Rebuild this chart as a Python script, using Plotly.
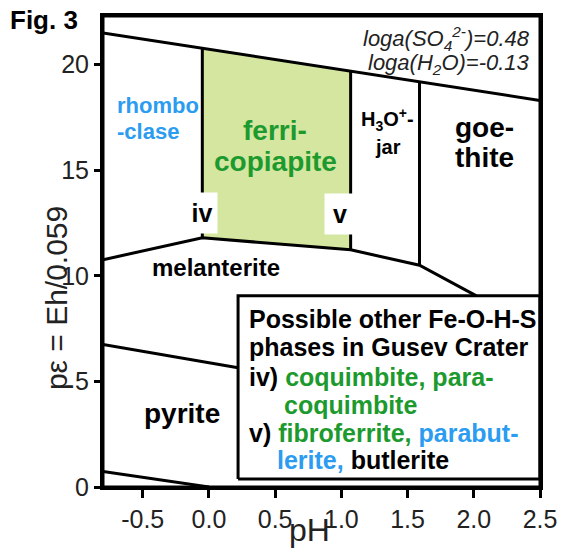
import plotly.graph_objects as go

# Phase boundaries (pH, pe)
water_x = [-0.8, 2.5]
water_y = [21.5, 18.3]

rhombo_ferri_x = [-0.05, -0.05]
rhombo_ferri_y = [20.77, 11.8]

ferri_jar_x = [1.07, 1.07]
ferri_jar_y = [19.69, 11.23]

jar_goethite_x = [1.59, 1.59]
jar_goethite_y = [19.18, 10.5]

melanterite_top_x = [-0.8, -0.05, 1.07, 1.59, 2.02]
melanterite_top_y = [10.76, 11.8, 11.23, 10.5, 9.05]

pyrite_top_x = [-0.8, 0.22]
pyrite_top_y = [6.75, 5.65]

pyrite_bottom_x = [-0.8, 0.0]
pyrite_bottom_y = [0.74, 0.0]

ferri_field_x = [-0.05, 1.07, 1.07, -0.05, -0.05]
ferri_field_y = [20.77, 19.69, 11.23, 11.8, 20.77]

legend_box_x = [0.22, 2.5, 2.5, 0.22, 0.22]
legend_box_y = [0.38, 0.38, 9.05, 9.05, 0.38]

x_ticks = [-0.5, 0.0, 0.5, 1.0, 1.5, 2.0, 2.5]
x_ticktext = ["-0.5", "0.0", "0.5", "1.0", "1.5", "2.0", "2.5"]
y_ticks = [0, 5, 10, 15, 20]

GREEN = "#1d9a2e"
BLUE = "#2b9cf0"
FONT = "Arial, Liberation Sans, sans-serif"

fig = go.Figure()

# ferricopiapite field
fig.add_trace(go.Scatter(x=ferri_field_x, y=ferri_field_y, mode="lines",
                         fill="toself", fillcolor="#d4e6a0",
                         line=dict(width=0), hoverinfo="skip"))

boundaries = [
    (water_x, water_y),
    (rhombo_ferri_x, rhombo_ferri_y),
    (ferri_jar_x, ferri_jar_y),
    (jar_goethite_x, jar_goethite_y),
    (melanterite_top_x, melanterite_top_y),
    (pyrite_top_x, pyrite_top_y),
    (pyrite_bottom_x, pyrite_bottom_y),
]
for bx, by in boundaries:
    fig.add_trace(go.Scatter(x=bx, y=by, mode="lines",
                             line=dict(color="black", width=3),
                             hoverinfo="skip"))

# white legend box
fig.add_trace(go.Scatter(x=legend_box_x, y=legend_box_y, mode="lines",
                         fill="toself", fillcolor="white",
                         line=dict(color="black", width=3), hoverinfo="skip"))

# frame around the plot area
fig.add_shape(type="rect", xref="x domain", yref="y domain",
              x0=0, x1=1, y0=0, y1=1, line=dict(color="black", width=3))


def label(text, x, y, size, color="black", bold=True, **kw):
    if bold:
        text = "<b>" + text + "</b>"
    fig.add_annotation(x=x, y=y, text=text, showarrow=False,
                       font=dict(size=size, color=color, family=FONT), **kw)


# field labels
label("rhombo", -0.71, 18.05, 22, BLUE, xanchor="left")
label("-clase", -0.71, 16.85, 22, BLUE, xanchor="left")
label("ferri-", 0.5, 16.9, 28, GREEN)
label("copiapite", 0.5, 15.4, 28, GREEN)
label("H<sub>3</sub>O<sup>+</sup>-", 1.35, 17.4, 20)
label("jar", 1.35, 16.1, 20)
label("goe-", 2.08, 17.0, 28)
label("thite", 2.08, 15.6, 28)
label("melanterite", 0.05, 10.38, 24)
label("pyrite", -0.2, 3.5, 28)
label("iv", -0.05, 12.95, 25, bgcolor="white", width=28, height=38)
label("v", 0.99, 12.92, 25, bgcolor="white", width=28, height=38)

# activity annotation
label("<i>loga(SO<sub>4</sub><sup>2-</sup>)=0.48</i>", 2.5, 21.25, 22,
      "#222", bold=False, xanchor="right", xshift=-8)
label("<i>loga(H<sub>2</sub>O)=-0.13</i>", 2.5, 20.05, 22,
      "#222", bold=False, xanchor="right", xshift=-8)

# legend box text
box_lines = [
    (0.29, 7.96, "Possible other Fe-O-H-S"),
    (0.29, 6.64, "phases in Gusev Crater"),
    (0.29, 5.21, "iv) <span style='color:%s'>coquimbite, para-</span>" % GREEN),
    (0.55, 3.89, "<span style='color:%s'>coquimbite</span>" % GREEN),
    (0.29, 2.56, "v) <span style='color:%s'>fibroferrite, </span>"
                 "<span style='color:%s'>parabut-</span>" % (GREEN, BLUE)),
    (0.50, 1.28, "<span style='color:%s'>lerite, </span>butlerite" % BLUE),
]
for bx, by, t in box_lines:
    label(t, bx, by, 25, xanchor="left")

# figure tag and axis titles
fig.add_annotation(xref="paper", yref="paper", x=-0.217, y=0.992,
                   xanchor="left", yanchor="middle", showarrow=False,
                   text="<b>Fig. 3</b>",
                   font=dict(size=26, color="black", family=FONT))
fig.add_annotation(x=0.756, xref="x", yref="paper", y=-0.091,
                   yanchor="middle", showarrow=False, text="pH",
                   font=dict(size=32, color="#222", family=FONT))
fig.add_annotation(xref="paper", yref="paper", x=-0.1076, y=0.401,
                   xanchor="center", yanchor="middle",
                   textangle=-90, showarrow=False, text="pε = Eh/0.059",
                   font=dict(size=30, color="#222", family=FONT))

fig.update_xaxes(range=[-0.8, 2.5], tickvals=x_ticks, ticktext=x_ticktext,
                 showline=True, mirror=True, linecolor="black", linewidth=3,
                 ticks="outside", ticklen=8, tickwidth=3, tickcolor="black",
                 showgrid=False, zeroline=False, automargin=False,
                 tickfont=dict(size=25, color="#222", family=FONT))
fig.update_yaxes(range=[0, 22.3], tickvals=y_ticks,
                 showline=True, mirror=True, linecolor="black", linewidth=3,
                 ticks="outside", ticklen=6, tickwidth=3, tickcolor="black",
                 showgrid=False, zeroline=False, automargin=False,
                 tickfont=dict(size=25, color="#222", family=FONT))

fig.update_layout(width=563, height=548, showlegend=False,
                  plot_bgcolor="white", paper_bgcolor="white",
                  margin=dict(l=103, r=23, t=16, b=61))

# drop the page's default body margin so the figure sits at the top-left
fig.write_html("out.html", config={"displayModeBar": False},
               post_script="document.body.style.margin = '0';")
